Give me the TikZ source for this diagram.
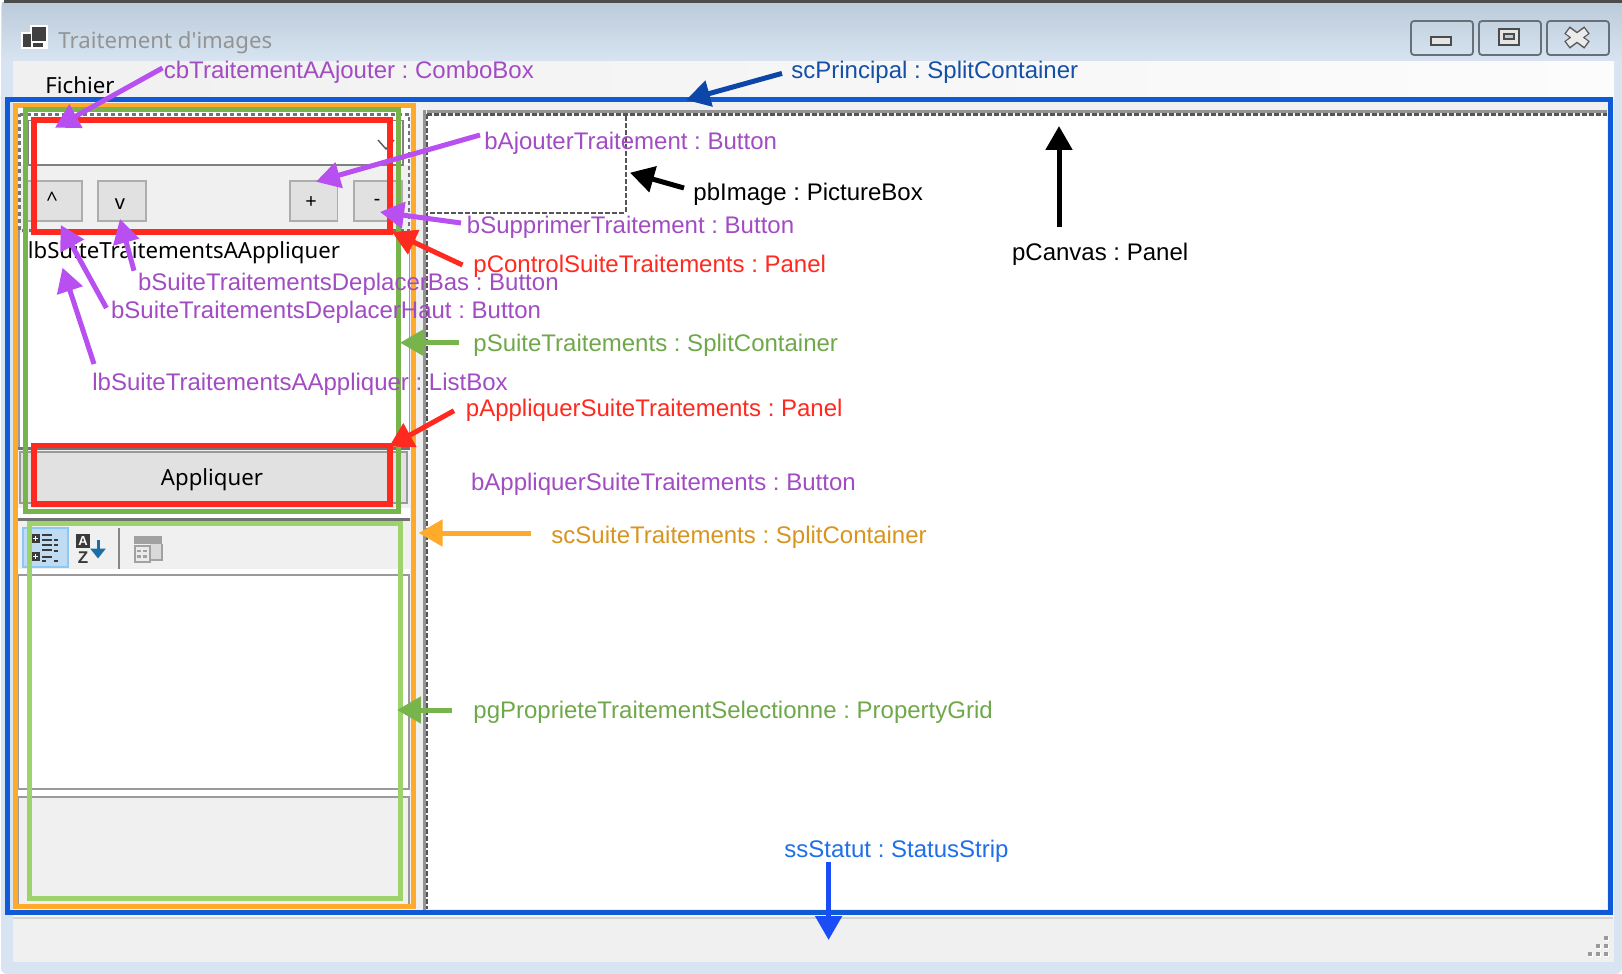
\documentclass[tikz,border=0pt]{standalone}
\usepackage{fontspec}
\setmainfont{Liberation Sans}
\newfontfamily\uifont{Noto Sans}
\usetikzlibrary{arrows.meta}
\frenchspacing
\definecolor{frameTop}{HTML}{BCCBDA}
\definecolor{frameBot}{HTML}{D8E4F1}
\definecolor{ctrl}{HTML}{F0F0F0}
\definecolor{btnFill}{HTML}{E1E1E1}
\definecolor{btnLine}{HTML}{ADADAD}
\definecolor{uiGrey}{HTML}{9A9A9A}
\definecolor{uiDark}{HTML}{555555}
\definecolor{hlBlue}{HTML}{0F5AD6}
\definecolor{hlOrange}{HTML}{FFAA2B}
\definecolor{hlGreen}{HTML}{77B54C}
\definecolor{hlLight}{HTML}{9DD36B}
\definecolor{hlRed}{HTML}{FF2A1F}
\definecolor{arrPurple}{HTML}{B84FF0}
\definecolor{arrNavy}{HTML}{0B46A8}
\definecolor{arrBlue}{HTML}{1A4DF5}
\definecolor{txtPurple}{HTML}{A24CC4}
\definecolor{txtGreen}{HTML}{6FA84A}
\definecolor{txtOrange}{HTML}{D9941F}
\definecolor{txtNavy}{HTML}{1450A8}
\definecolor{txtBlue}{HTML}{1F6FE8}
\definecolor{iconDark}{HTML}{3A3A3A}
\tikzset{
  lbl/.style={anchor=base west,inner sep=0pt,font=\fontsize{12}{14}\selectfont},
  ui/.style={inner sep=0pt,font=\uifont\fontsize{11.1}{13}\selectfont,text=black},
  small/.style={inner sep=0pt,font=\uifont\fontsize{10}{12}\selectfont,text=black},
  hl/.style={line width=2.5pt,line join=miter},
  hlred/.style={line width=2.8pt,line join=miter,draw=hlRed},
  arr/.style={line width=2.5pt,-{Triangle[length=12pt,width=13pt]}},
  btnbox/.style={fill=btnFill,draw=btnLine,line width=0.8pt},
  dashline/.style={draw=uiDark,line width=1.1pt,dash pattern=on 2.5pt off 1pt},
  paneldash/.style={draw=black!55,line width=1.1pt,dash pattern=on 2pt off 1.5pt},
  winbtn/.style={draw=black!45!frameTop,line width=0.9pt,rounded corners=1.5pt},
  griddot/.style={fill=uiGrey,draw=none},
}
\begin{document}
\begin{tikzpicture}[x=0.5pt,y=-0.5pt]
\useasboundingbox (0,0) rectangle (1622,974);
% window frame
\fill[frameBot,rounded corners=3pt] (1,1) rectangle (1622,974);
\shade[top color=frameTop,bottom color=frameBot] (2,3) rectangle (1622,62);
\fill[black!70] (4,0) rectangle (1622,3);
% client
\shade[left color=ctrl,right color=white!80!ctrl] (13,62) rectangle (1614,100);
\fill[ctrl] (13,100) rectangle (1614,962);
\fill[white] (427,116) rectangle (1607,909);
\fill[white!96!black] (13,914) rectangle (1614,917);
\fill[black!17] (13,916.5) rectangle (1613,918.5);
% title bar
\fill[white] (21,32) rectangle (33,49);
\fill[white] (30,25) rectangle (47.5,49);
\fill[black!75] (23,34) rectangle (31,47);
\fill[black!75] (32,27) rectangle (46,41);
\fill[black!75] (33,43) rectangle (43,47);
\node[ui,anchor=base west,text=black!42] (title) at (58,48.5) {Traitement d'images};
\node[ui,anchor=base west] (menu) at (45,94) {Fichier};
\draw[winbtn] (1411,21) rectangle (1473,55);
\draw[winbtn] (1479,21) rectangle (1541,55);
\draw[winbtn] (1547,21) rectangle (1609,55);
\draw[fill=white!90!black,draw=black!70,line width=0.8pt] (1431,37) rectangle (1451,45);
\draw[fill=white!90!black,draw=black!70,line width=1pt] (1499,29) rectangle (1519,45);
\draw[fill=frameTop,draw=black!70,line width=0.7pt] (1504,34) rectangle (1514,39);
\draw[black!65,line width=4.6pt] (1567,30) -- (1587,45) (1587,30) -- (1567,45);
\draw[white!92!black,line width=3.2pt] (1568,31) -- (1586,44) (1586,31) -- (1568,44);
% left pane
\fill[white] (20,113) rectangle (409,165);
\fill[white] (20,233) rectangle (409,448);
\fill[white!96!ctrl] (17,108) rectangle (411,113);
\draw[uiGrey,line width=0.8pt] (409.5,230) -- (409.5,448);
\draw[uiGrey,line width=0.8pt] (19,230) -- (19,448);
% combo box
\draw[black!50,line width=0.8pt] (28,165) -- (28,120.5) -- (403,120.5) -- (403,165) -- cycle;
\draw[uiDark,line width=0.7pt] (378,140) -- (386,149) -- (394,140);
% control panel dashed outline
\draw[paneldash] (19.5,114.5) -- (409,114.5) -- (409,230.5) -- (19.5,230.5) -- cycle;
\draw[btnbox] (27.5,181) rectangle (82,221);
\draw[btnbox] (98,181) rectangle (146,221);
\draw[btnbox] (290,181) rectangle (337.5,221);
\draw[btnbox] (354,181) rectangle (402,221);
\node[small] (btnUp) at (52,199) {\^{}};
\node[small] (btnDown) at (120,204) {v};
\node[small] (btnAdd) at (311,203) {+};
\node[small] (btnDel) at (377,202) {-};
\node[ui,anchor=base west] (list) at (27.5,258) {lbSuiteTraitementsAAppliquer};
\fill[black!55] (18,447) rectangle (410,449.5);
\draw[btnbox,draw=uiGrey] (20,452) rectangle (407,503);
\node[ui] (apply) at (212,480) {Appliquer};
\fill[white!96!ctrl] (18,508) rectangle (410,518);
\fill[black!55] (18,518) rectangle (410,521);
% property grid
\fill[white!96!ctrl] (18,569) rectangle (410,574);
\draw[fill=white,draw=uiGrey,line width=0.8pt] (18.5,575) rectangle (409,789);
\fill[white] (18,790) rectangle (409,796);
\draw[fill=ctrl,draw=uiGrey,line width=0.8pt] (18.5,797) rectangle (409,908);
% toolbar
\definecolor{tbFill}{HTML}{BFDCF3}
\definecolor{tbLine}{HTML}{8FC7F3}
\draw[fill=tbFill,draw=tbLine,line width=1pt] (22.5,527.5) rectangle (67.5,567);
\foreach \yy in {534,552}{
  \fill[iconDark] (30.7,\yy) rectangle (40,\yy+9);
  \fill[white] (32.6,\yy+3.7) rectangle (38.1,\yy+5.3);
  \fill[white] (34.5,\yy+1.9) rectangle (36.2,\yy+7.1);
}
\foreach \yy/\xe in {535/52,540/52,545/52,550/52,557/52,561/46}{
  \draw[iconDark,line width=0.8pt] (42,\yy) -- (\xe,\yy);
}
\foreach \yy in {540,545,551,561}{
  \draw[iconDark,line width=0.8pt] (54,\yy) -- (58,\yy);
}
\fill[iconDark] (76,534) rectangle (90,548);
\node[inner sep=0pt,text=white,font=\bfseries\fontsize{6.5}{6.5}\selectfont] (iconA) at (83,541) {A};
\node[inner sep=0pt,text=iconDark,font=\bfseries\fontsize{8.5}{8.5}\selectfont] (iconZ) at (83,557.5) {Z};
\definecolor{azBlue}{HTML}{1B6EA8}
\draw[azBlue,line width=1.5pt,-{Triangle[length=5pt,width=7.5pt]}] (98,540) -- (98,558.5);
\fill[black!47] (118,528) rectangle (120,569);
\fill[black!15] (150,544) rectangle (162,560);
\fill[black!37] (134,536) rectangle (162,544);
\draw[black!37,line width=0.9pt] (162,544) -- (162,560) -- (150,560);
\draw[black!37,fill=black!8,line width=1pt] (135,546) rectangle (149.5,561.5);
\foreach \xx in {139,145}\foreach \yy in {551,556.5}{\fill[black!37] (\xx-1.8,\yy-1.4) rectangle (\xx+1.8,\yy+1.4);}
% right panel borders
\fill[black!42] (427,110) rectangle (1607,113);
\fill[black!42] (422.5,110) rectangle (426,914);
\draw[dashline,line width=1.5pt] (427,114.5) -- (1607,114.5);
\draw[dashline,line width=1.2pt] (427,114.5) -- (427,909);
\draw[dashline] (625.7,116) -- (625.7,212.7) -- (427,212.7);
% status grip
\foreach \gx/\gy in {1590/954,1598/954,1606/954,1598/946,1606/946,1606/938}{
  \fill[white] (\gx-1,\gy-1) rectangle (\gx+3,\gy+3);
  \fill[griddot] (\gx-2,\gy-2) rectangle (\gx+2,\gy+2);
}
% highlight rectangles
\draw[hl,draw=hlBlue] (7.5,100) rectangle (1610,912);
\draw[hl,draw=hlOrange] (15,105.5) rectangle (413.5,906);
\draw[hl,draw=hlGreen] (25,110) rectangle (398,511);
\draw[hl,draw=hlLight] (29,523.5) rectangle (400,898);
\draw[hlred] (34,120) rectangle (390,232);
\draw[hlred] (34,445.5) rectangle (390,504);
% arrow ends
\coordinate (cbS) at (162.5,68);   \coordinate (cbT) at (55,127.7);
\coordinate (spS) at (782,73.4);   \coordinate (spT) at (686,100);
\coordinate (ajS) at (480,135);    \coordinate (ajT) at (316,181.7);
\coordinate (suS) at (461,223);    \coordinate (suT) at (380,212);
\coordinate (pcS) at (462.5,265);  \coordinate (pcT) at (392,232);
\coordinate (dbS) at (134,270.7);  \coordinate (dbT) at (120,219);
\coordinate (dhS) at (106.4,308);  \coordinate (dhT) at (60.7,225);
\coordinate (lbS) at (94,364);     \coordinate (lbT) at (62.5,267.7);
\coordinate (psS) at (459,342.7);  \coordinate (psT) at (400,342.7);
\coordinate (paS) at (454,410.7);  \coordinate (paT) at (389,446.7);
\coordinate (ssS) at (531,533);    \coordinate (ssT) at (418.6,533);
\coordinate (pgS) at (452,710);    \coordinate (pgT) at (397,710);
\coordinate (stS) at (828.6,862);  \coordinate (stT) at (828.6,940);
\coordinate (piS) at (684,188);    \coordinate (piT) at (630,172.7);
\coordinate (cvS) at (1059,226.5); \coordinate (cvT) at (1059,126);
% arrows
\draw[arr,arrPurple] (cbS) -- (cbT);
\draw[arr,arrNavy] (spS) -- (spT);
\draw[arr,arrPurple] (ajS) -- (ajT);
\draw[arr,arrPurple] (suS) -- (suT);
\draw[arr,hlRed] (pcS) -- (pcT);
\draw[arr,arrPurple] (dbS) -- (dbT);
\draw[arr,arrPurple] (dhS) -- (dhT);
\draw[arr,arrPurple] (lbS) -- (lbT);
\draw[arr,hlGreen] (psS) -- (psT);
\draw[arr,hlRed] (paS) -- (paT);
\draw[arr,hlOrange] (ssS) -- (ssT);
\draw[arr,hlGreen] (pgS) -- (pgT);
\draw[arr,arrBlue] (stS) -- (stT);
\draw[arr,black] (piS) -- (piT);
\draw[arr,black] (cvS) -- (cvT);
% labels
\node[lbl,text=txtPurple] (lcb) at (163.5,78.5) {cbTraitementAAjouter : ComboBox};
\node[lbl,text=txtNavy] (lsp) at (791,78.5) {scPrincipal : SplitContainer};
\node[lbl,text=txtPurple] (laj) at (484,149) {bAjouterTraitement : Button};
\node[lbl,text=black] (lpi) at (693,200) {pbImage : PictureBox};
\node[lbl,text=txtPurple] (lsu) at (466.5,233) {bSupprimerTraitement : Button};
\node[lbl,text=hlRed] (lpc) at (473,272) {pControlSuiteTraitements : Panel};
\node[lbl,text=txtPurple] (ldb) at (137.6,290) {bSuiteTraitementsDeplacerBas : Button};
\node[lbl,text=txtPurple] (ldh) at (110.7,318) {bSuiteTraitementsDeplacerHaut : Button};
\node[lbl,text=txtGreen] (lps) at (473,351) {pSuiteTraitements : SplitContainer};
\node[lbl,text=txtPurple] (llb) at (92,390) {lbSuiteTraitementsAAppliquer : ListBox};
\node[lbl,text=hlRed] (lpa) at (465.5,416) {pAppliquerSuiteTraitements : Panel};
\node[lbl,text=txtPurple] (lba) at (470.7,490) {bAppliquerSuiteTraitements : Button};
\node[lbl,text=txtOrange] (lss) at (551,543) {scSuiteTraitements : SplitContainer};
\node[lbl,text=txtGreen] (lpg) at (473,718) {pgProprieteTraitementSelectionne : PropertyGrid};
\node[lbl,text=txtBlue] (lst) at (784,857) {ssStatut : StatusStrip};
\node[lbl,text=black] (lcv) at (1011.7,260) {pCanvas : Panel};
\end{tikzpicture}
\end{document}
